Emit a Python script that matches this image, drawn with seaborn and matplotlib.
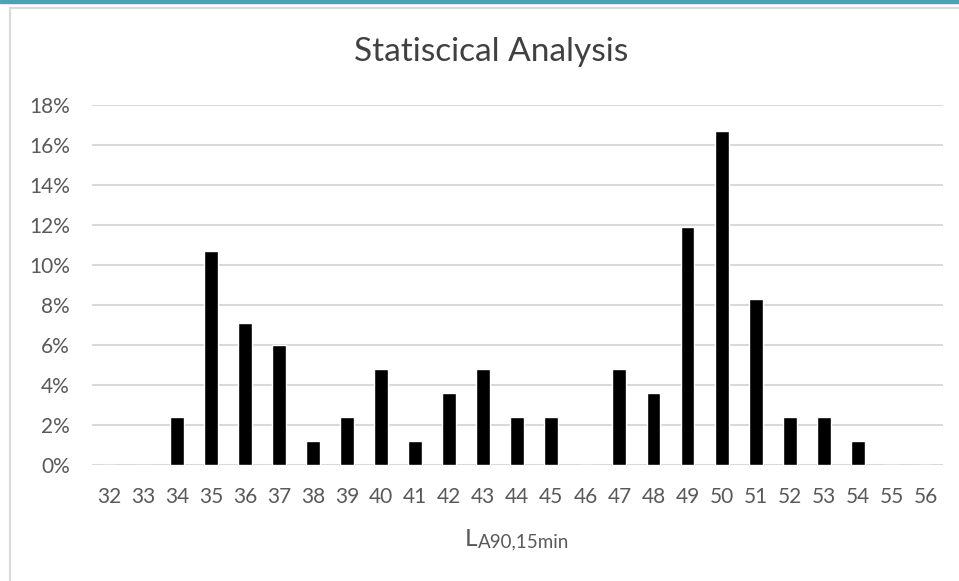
import matplotlib.pyplot as plt
import matplotlib.patches as mpatches
import matplotlib.ticker as mticker
import pandas as pd
import seaborn as sns

categories = [str(c) for c in range(32, 57)]
shares = [0.0, 0.0, 2.4, 10.7, 7.1, 6.0, 1.2, 2.4, 4.8, 1.2, 3.6, 4.8, 2.4,
          2.4, 0.0, 4.8, 3.6, 11.9, 16.7, 8.3, 2.4, 2.4, 1.2, 0.0, 0.0]

df = pd.DataFrame({"LA": categories, "share": [s / 100 for s in shares]})

sns.set_style("white")
plt.rcParams["font.family"] = ["Lato", "DejaVu Sans"]

fig = plt.figure(figsize=(9.59, 5.81), dpi=100)
ax = fig.add_axes([0.096, 0.2, 0.887, 0.62])

# outer frame and top accent line like the screenshot
fig.patches.append(mpatches.Rectangle((10 / 959, -0.05), 1.0, 1 - 8 / 581 + 0.05,
                                      transform=fig.transFigure, fill=False,
                                      edgecolor="#d9d9d9", linewidth=1.5))
fig.patches.append(mpatches.Rectangle((0, 1 - 3 / 581), 1, 3 / 581,
                                      transform=fig.transFigure, color="#4aa3b5"))

sns.barplot(data=df, x="LA", y="share", color="black", width=0.41,
            saturation=1, ax=ax)

ax.set_ylim(0, 0.18)
ax.yaxis.set_major_locator(mticker.MultipleLocator(0.02))
ax.yaxis.set_major_formatter(mticker.PercentFormatter(1.0, decimals=0))
ax.grid(axis="y", color="#d9d9d9", linewidth=1.5)
ax.set_axisbelow(True)
for s in ax.spines.values():
    s.set_visible(False)
ax.tick_params(axis="both", colors="#595959", labelsize=15, length=0)
ax.tick_params(axis="y", pad=16)
ax.tick_params(axis="x", pad=16)
ax.set_ylabel("")
ax.set_xlabel("")

fig.text(0.512, 0.91, "Statiscical Analysis", ha="center", va="center",
         fontsize=24, color="#404040")

lt = fig.text(0.485, 0.06, "L", ha="left", va="baseline", fontsize=17.5,
              color="#595959")
ax.annotate("A90,15min", xy=(1, 0), xycoords=lt, ha="left", va="bottom",
            fontsize=13.5, color="#595959")

plt.savefig("out.png", dpi=100)
